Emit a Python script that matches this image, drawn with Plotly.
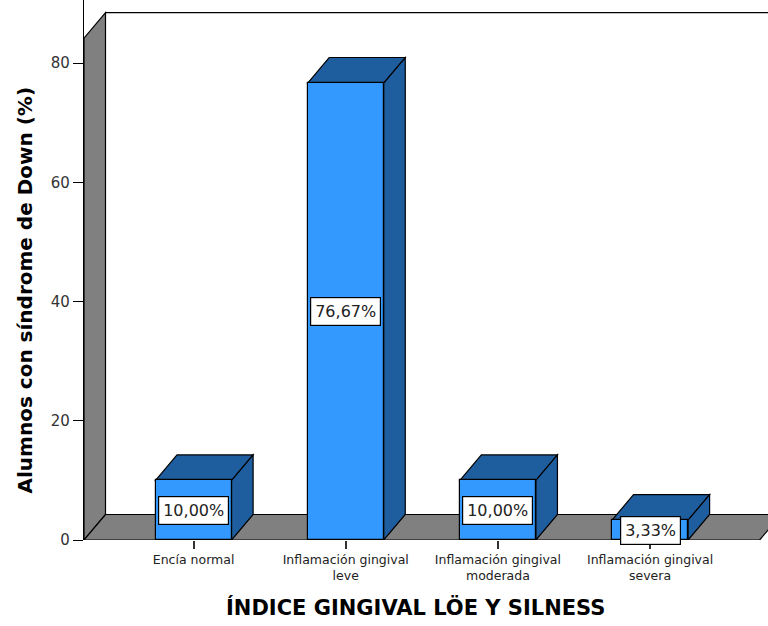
import plotly.graph_objects as go

# Índice gingival de Löe y Silness en alumnos con síndrome de Down
categories = [
    "Encía normal",
    "Inflamación gingival<br>leve",
    "Inflamación gingival<br>moderada",
    "Inflamación gingival<br>severa",
]
percentages = [10.00, 76.67, 10.00, 3.33]
y_ticks = [0, 20, 40, 60, 80]

FRONT = "#3399FF"
SHADE = "#1F5E9E"
WALL = "#808080"
EDGE = "#000000"

# chart geometry (axis units)
x_pos = list(range(len(categories)))
bar_w = 0.5
x_lo, x_hi = -0.72, 3.775
y_top = 90.6
wall_top = 84.2
dx, dy = 0.1413, 4.28          # depth offset of the 3D projection
floor_right = len(categories) - 1 + 0.72


def poly(pts):
    return "M " + " L ".join(f"{x},{y}" for x, y in pts) + " Z"


shapes = []
# left wall
shapes.append(dict(type="path", xref="x", yref="y", layer="below",
                   path=poly([(x_lo, 0), (x_lo, wall_top), (x_lo + dx, wall_top + dy), (x_lo + dx, dy)]),
                   fillcolor=WALL, line=dict(color=EDGE, width=1.2)))
# floor
shapes.append(dict(type="path", xref="x", yref="y", layer="below",
                   path=poly([(x_lo, 0), (floor_right, 0), (floor_right + dx, dy), (x_lo + dx, dy)]),
                   fillcolor=WALL, line=dict(color=EDGE, width=1.2)))
# back wall top edge
shapes.append(dict(type="line", xref="x", yref="y", layer="below",
                   x0=x_lo + dx, y0=wall_top + dy, x1=x_hi + 1, y1=wall_top + dy,
                   line=dict(color=EDGE, width=1.2)))

# top and side faces of each bar
for xc, v in zip(x_pos, percentages):
    l, r = xc - bar_w / 2, xc + bar_w / 2
    shapes.append(dict(type="path", xref="x", yref="y", layer="below",
                       path=poly([(l, v), (r, v), (r + dx, v + dy), (l + dx, v + dy)]),
                       fillcolor=SHADE, line=dict(color=EDGE, width=1.2)))
    shapes.append(dict(type="path", xref="x", yref="y", layer="below",
                       path=poly([(r, 0), (r, v), (r + dx, v + dy), (r + dx, dy)]),
                       fillcolor=SHADE, line=dict(color=EDGE, width=1.2)))

fig = go.Figure()
fig.add_trace(go.Bar(
    x=x_pos, y=percentages, width=bar_w,
    marker=dict(color=FRONT, line=dict(color=EDGE, width=1.2)),
    hoverinfo="skip", showlegend=False,
))

annotations = []
for xc, v in zip(x_pos, percentages):
    annotations.append(dict(
        x=xc, y=v / 2, xref="x", yref="y",
        text=f"{v:.2f}%".replace(".", ","),
        showarrow=False, bgcolor="white",
        bordercolor=EDGE, borderwidth=1.2, borderpad=4,
        font=dict(family="DejaVu Sans", size=16, color="#222222"),
    ))

annotations.append(dict(
    x=-0.087, y=0.463, xref="paper", yref="paper",
    text="Alumnos con síndrome de Down (%)", textangle=-90,
    showarrow=False, xanchor="center", yanchor="middle",
    font=dict(family="DejaVu Sans", size=20, color="black", weight="bold"),
))
annotations.append(dict(
    x=1.46, y=-0.125, xref="x", yref="paper",
    text="ÍNDICE GINGIVAL LÖE Y SILNESS",
    showarrow=False, xanchor="center", yanchor="middle",
    font=dict(family="DejaVu Sans", size=21, color="black", weight="bold"),
))

fig.update_layout(
    width=768, height=626,
    margin=dict(l=84, r=0, t=0, b=86),
    paper_bgcolor="white", plot_bgcolor="white",
    font=dict(family="DejaVu Sans"),
    shapes=shapes, annotations=annotations,
    xaxis=dict(
        range=[x_lo, x_hi], tickmode="array", tickvals=x_pos, ticktext=categories,
        showgrid=False, zeroline=False, showline=False,
        ticks="outside", ticklen=8, tickcolor="#333333", tickwidth=1.5,
        tickfont=dict(size=12.5, color="#222222"), fixedrange=True,
    ),
    yaxis=dict(
        range=[0, y_top], tickmode="array", tickvals=y_ticks,
        showgrid=False, zeroline=False, showline=True, linecolor=EDGE, linewidth=1.2,
        ticks="outside", ticklen=10, tickcolor=EDGE, tickwidth=1.2,
        tickfont=dict(size=15, color="#333333"), fixedrange=True,
    ),
    bargap=0,
)

fig.write_html("out.html")
